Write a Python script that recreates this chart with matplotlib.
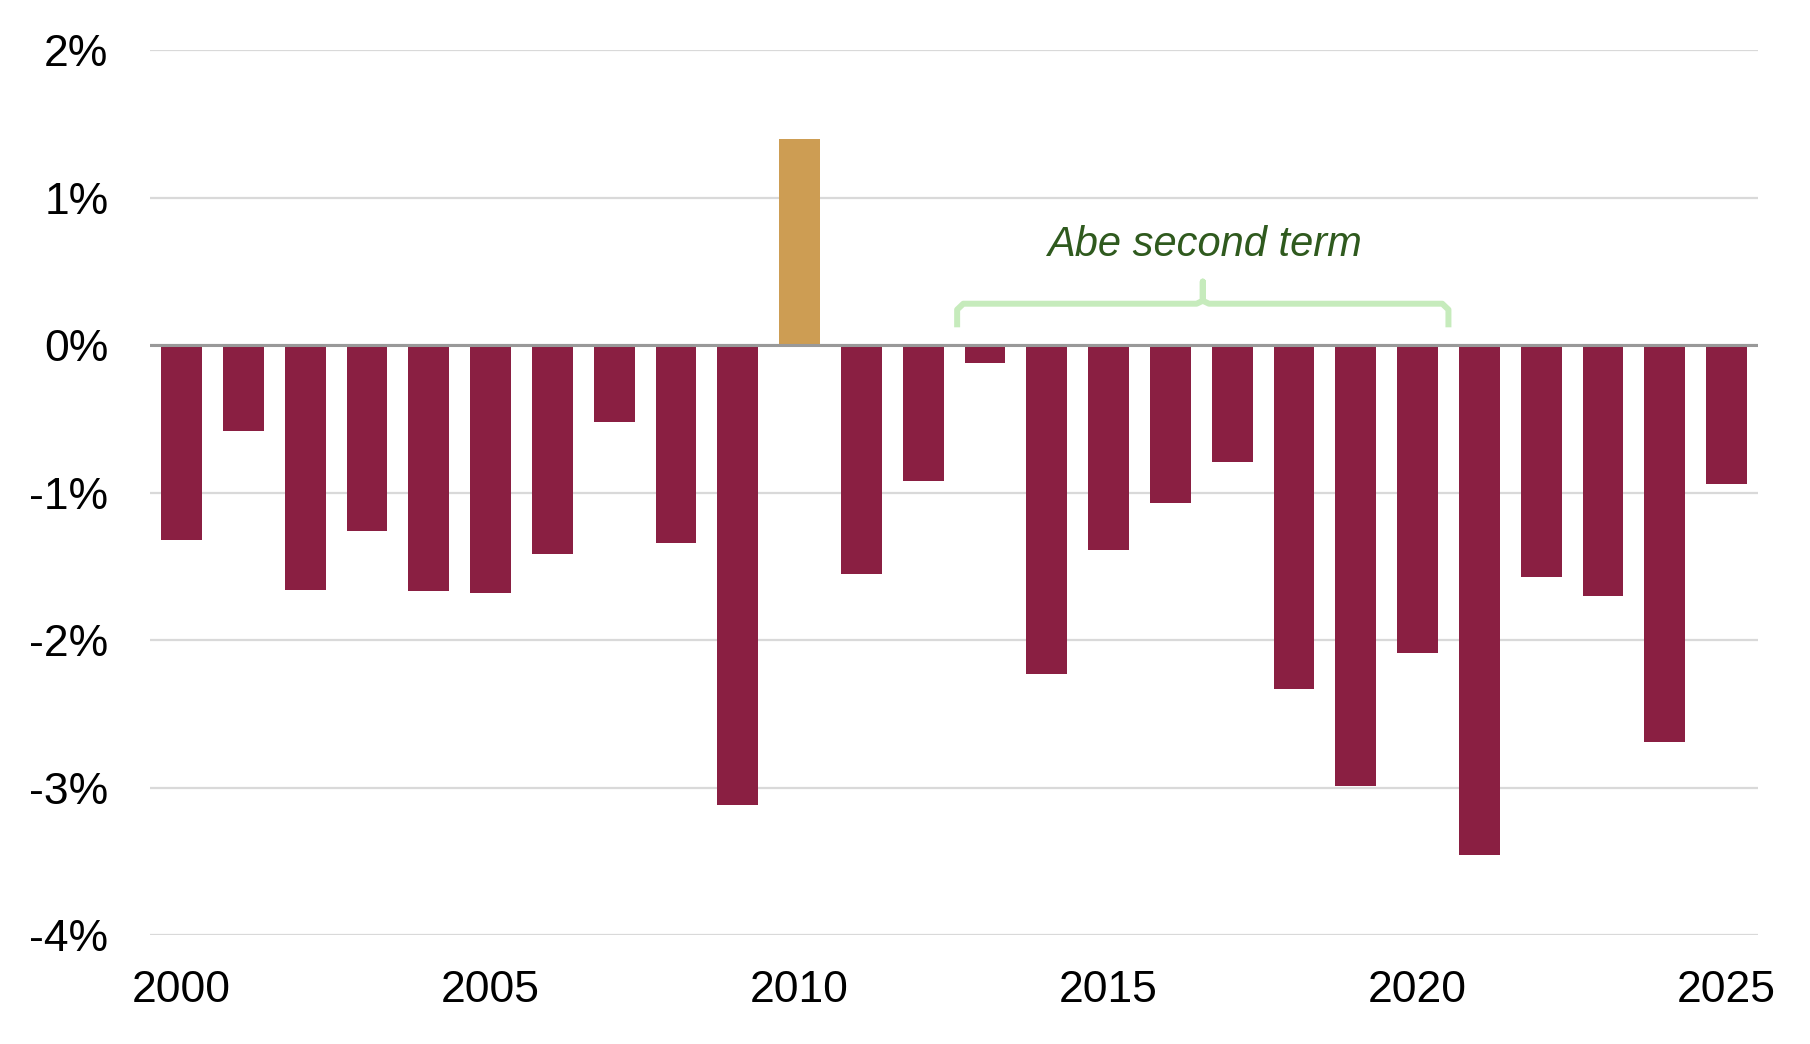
import matplotlib.pyplot as plt
from matplotlib.ticker import FuncFormatter

plt.rcParams['font.family'] = ['Liberation Sans', 'DejaVu Sans']

# Data
years = list(range(2000, 2026))
values = [-1.32, -0.58, -1.66, -1.26, -1.67, -1.68, -1.42, -0.52, -1.34, -3.12,
          1.40, -1.55, -0.92, -0.12, -2.23, -1.39, -1.07, -0.79, -2.33, -2.99,
          -2.09, -3.46, -1.57, -1.70, -2.69, -0.94]
yticks = [-4, -3, -2, -1, 0, 1, 2]
xticks = [2000, 2005, 2010, 2015, 2020, 2025]
bracket_start, bracket_end = 2012.55, 2020.5
note = 'Abe second term'

neg_color = '#8a1f42'
pos_color = '#cd9d53'
colors = [pos_color if v > 0 else neg_color for v in values]

fig = plt.figure(figsize=(18.1, 10.44), dpi=100)
ax = fig.add_axes([0.0829, 0.1044, 0.8884, 0.8477])

ax.bar(years, values, width=0.66, color=colors, zorder=3)

ax.set_xlim(1999.49, 2025.51)
ax.set_ylim(-4, 2)
ax.set_yticks(yticks)
ax.set_xticks(xticks)
ax.yaxis.set_major_formatter(FuncFormatter(lambda v, p: f'{v:.0f}%'))
ax.grid(axis='y', color='#d9d9d9', linewidth=1.6, zorder=0)
ax.axhline(0, color='#999999', linewidth=2.2, zorder=4)

for s in ax.spines.values():
    s.set_visible(False)
ax.tick_params(axis='both', length=0, labelsize=32, colors='black')
ax.tick_params(axis='y', pad=30)
ax.tick_params(axis='x', pad=25)

# bracket over Abe's second term
mid = (bracket_start + bracket_end) / 2
bx = [bracket_start, bracket_start, bracket_start + 0.1, mid - 0.1, mid, mid, mid,
      mid + 0.1, bracket_end - 0.1, bracket_end, bracket_end]
by = [0.12, 0.24, 0.28, 0.28, 0.30, 0.43, 0.30, 0.28, 0.28, 0.24, 0.12]
ax.plot(bx, by, color='#c6ebbc', linewidth=4.3, solid_capstyle='butt',
        solid_joinstyle='round', zorder=5)
ax.text(mid + 0.03, 0.68, note, ha='center', va='center', fontsize=30,
        style='italic', color='#2f5a1e', zorder=5)

fig.savefig('out.png', dpi=100, facecolor='white')
